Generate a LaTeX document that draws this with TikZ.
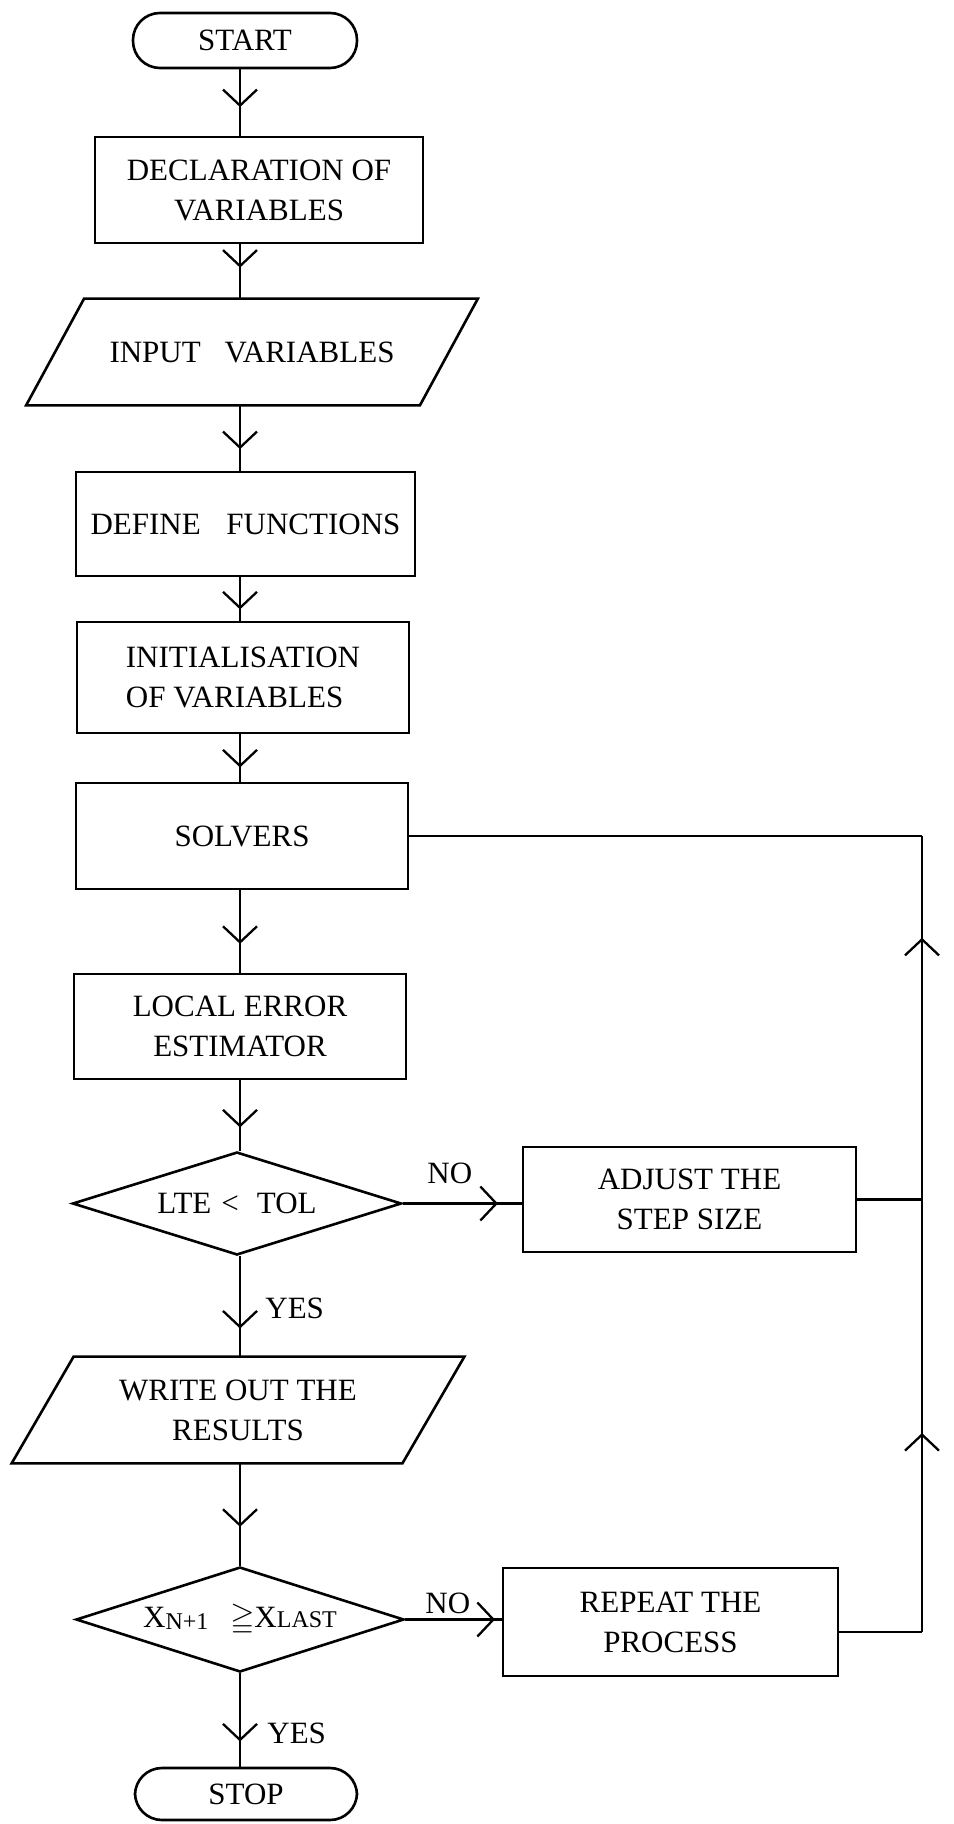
\documentclass[tikz,border=0pt]{standalone}
\usepackage{amssymb}
\usepackage{fontspec}
\setmainfont{Liberation Serif}
\usetikzlibrary{shapes.geometric,arrows.meta,decorations.markings,calc}
\newcommand\myparaframe[2]{\draw[boxline] ([xshift=#2]#1.north west) -- ([xshift=#2]#1.north east) -- ([xshift=-#2]#1.south east) -- ([xshift=-#2]#1.south west) -- cycle;}
\begin{document}
\begin{tikzpicture}[x=0.5pt,y=-0.5pt,
  every node/.style={font=\fontsize{15.5}{20}\selectfont, inner sep=0pt},
  boxline/.style={line width=1.3pt},
  procbox/.style={draw, boxline, rectangle, align=center},
  termbox/.style={draw, boxline, rectangle, rounded corners=13.5pt, minimum width=112pt, minimum height=27.5pt},
  decbox/.style={draw, boxline, diamond, aspect=3.2, inner sep=0pt},
  parabox/.style={rectangle, minimum height=53pt, align=center},
  flow/.style={line width=1.15pt},
  chev/.style={postaction={decorate}, decoration={markings, mark=at position #1 with {\arrow{Straight Barb[length=8pt,width=17pt]}}}},
]
\useasboundingbox (0,0) rectangle (953,1824);

% column coordinates
\coordinate (col) at (240,0);
\coordinate (rc) at (922,0);

% nodes
\node[termbox] (start) at (245,40.5) {START};
\node[procbox, minimum width=164pt, minimum height=53pt] (decl) at (259,190) {DECLARATION OF\\VARIABLES};
\node[parabox, minimum width=196.5pt] (input) at (252,352) {INPUT\hspace{8pt} VARIABLES};
\myparaframe{input}{14.5pt}
\node[procbox, minimum width=169.5pt, minimum height=52pt] (define) at (245.5,524) {DEFINE\hspace{9pt} FUNCTIONS};
\node[procbox, align=left, minimum width=166pt, minimum height=55.5pt] (init) at (243,677.5) {INITIALISATION\\OF VARIABLES};
\node[procbox, minimum width=166pt, minimum height=53pt] (solvers) at (242,836) {SOLVERS};
\node[procbox, minimum width=166pt, minimum height=52.5pt] (local) at (240,1026.5) {LOCAL ERROR\\ESTIMATOR};
\node[decbox, minimum width=164.5pt, minimum height=51.5pt] (lte) at (237,1203.5) {LTE\hspace{5pt}<\hspace{9pt}TOL};
\node[procbox, minimum width=166.5pt, minimum height=52.5pt] (adjust) at (689.5,1199.5) {ADJUST THE\\STEP SIZE};
\node[parabox, minimum width=195pt] (write) at (238,1410) {WRITE OUT THE\\RESULTS};
\myparaframe{write}{15.5pt}
\node[decbox, minimum width=164pt, minimum height=52.5pt] (last) at (240,1619.5) {X\raisebox{-1pt}{\fontsize{12}{14}\selectfont N+1}\hspace{11pt}$\geqq$X{\fontsize{12}{14}\selectfont LAST}};
\node[procbox, minimum width=167.5pt, minimum height=54pt] (repeat) at (670.5,1622) {REPEAT THE\\PROCESS};
\node[termbox, minimum width=111pt, minimum height=26pt] (stop) at (246,1794) {STOP};

% labels
\node[anchor=base west] (no1) at (427,1183) {NO};
\node[anchor=base west] (no2) at (425,1613) {NO};
\node[anchor=base west] (yes1) at (265,1318) {YES};
\node[anchor=base west] (yes2) at (267,1743) {YES};

% main flow
\draw[flow, chev=0.57] (start.south -| col) -- (decl.north -| col);
\draw[flow, chev=0.43] (decl.south -| col) -- (input.north -| col);
\draw[flow, chev=0.67] (input.south -| col) -- (define.north -| col);
\draw[flow, chev=0.74] (define.south -| col) -- (init.north -| col);
\draw[flow, chev=0.70] (init.south -| col) -- (solvers.north -| col);
\draw[flow, chev=0.65] (solvers.south -| col) -- (local.north -| col);
\draw[flow, chev=0.67] (local.south -| col) -- (lte.north -| col);
\draw[flow, chev=0.72] (lte.south -| col) -- (write.north -| col);
\draw[flow, chev=0.62] (write.south -| col) -- (last.north -| col);
\draw[flow, chev=0.73] (last.south -| col) -- (stop.north -| col);

% side branches
\draw[flow, chev=0.80] (lte.east) -- (lte.east -| adjust.west);
\draw[flow, chev=0.93] (last.east) -- (last.east -| repeat.west);

% loop back
\draw[flow] ([yshift=-5pt]repeat.east) -- ([yshift=-5pt]repeat.east -| rc) coordinate (j1);
\draw[flow, chev=0.46] (j1) -- (adjust.east -| rc);
\draw[flow] (adjust.east) -- (adjust.east -| rc);
\draw[flow, chev=0.72] (adjust.east -| rc) -- (solvers.east -| rc);
\draw[flow] (solvers.east -| rc) -- (solvers.east);
\end{tikzpicture}
\end{document}
